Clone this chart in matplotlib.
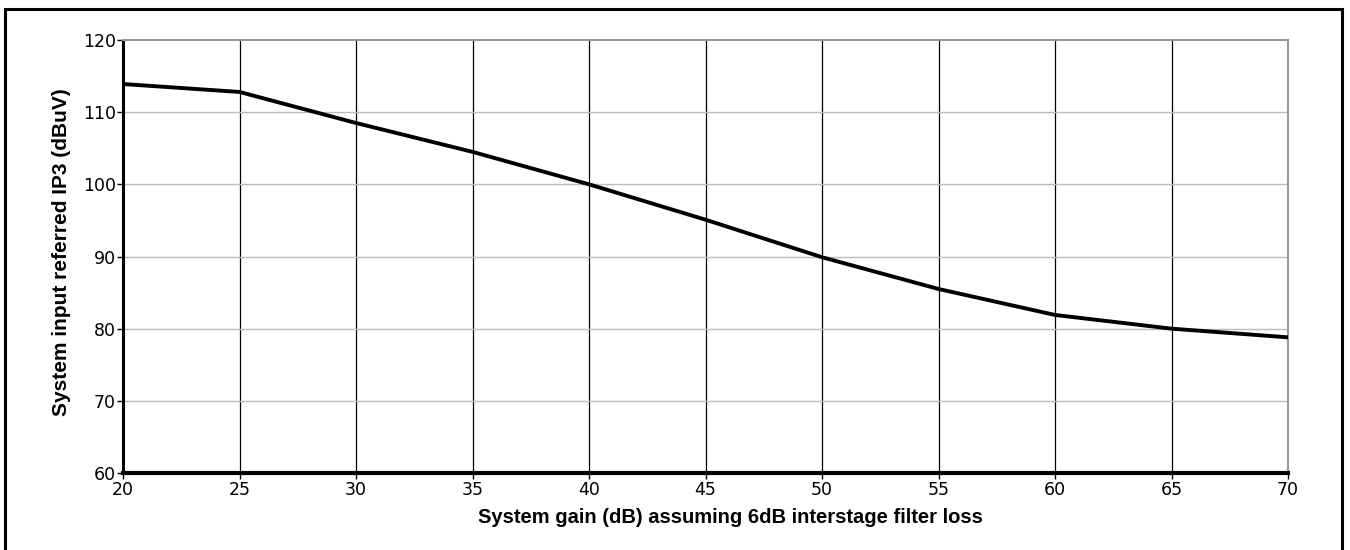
import matplotlib
matplotlib.use("Agg")
import matplotlib.pyplot as plt
from matplotlib.patches import Rectangle

gain_db = [20, 25, 30, 35, 40, 45, 50, 55, 60, 65, 70]
ip3_dbuv = [113.9, 112.8, 108.5, 104.5, 100.0, 95.1, 89.9, 85.5, 81.9, 80.0, 78.8]
x_ticks = [20, 25, 30, 35, 40, 45, 50, 55, 60, 65, 70]
y_ticks = [60, 70, 80, 90, 100, 110, 120]

plt.rcParams['font.family'] = ['Liberation Sans', 'DejaVu Sans']

W, H = 1350, 550
fig = plt.figure(figsize=(13.5, 5.5), dpi=100)
ax = fig.add_axes([123/W, 1 - 473/H, (1288 - 123)/W, (473 - 40)/H])

# outer frame
fig.patches.append(Rectangle((5/W, -0.02), (1342 - 5)/W, 1.02 - 9/H,
                             transform=fig.transFigure, fill=False,
                             edgecolor='black', linewidth=2.2))

for x in x_ticks[1:-1]:
    ax.axvline(x, color='black', linewidth=0.9, zorder=1)
for y in y_ticks[1:-1]:
    ax.axhline(y, color='#bbbbbb', linewidth=1.0, zorder=1)

ax.plot(gain_db, ip3_dbuv, color='black', linewidth=2.8, zorder=3,
        solid_joinstyle='miter')

ax.set_xlim(20, 70)
ax.set_ylim(60, 120)
ax.set_xticks(x_ticks)
ax.set_yticks(y_ticks)
ax.tick_params(axis='both', length=4, width=1, color='black')
ax.tick_params(axis='x', pad=2)
ax.tick_params(axis='y', pad=1)
for lab in ax.get_xticklabels() + ax.get_yticklabels():
    lab.set_fontfamily(['DejaVu Sans'])
    lab.set_fontsize(12.5)

ax.spines['left'].set_linewidth(2.2)
ax.spines['bottom'].set_linewidth(3.0)
ax.spines['left'].set_color('black')
ax.spines['bottom'].set_color('black')
ax.spines['top'].set_color('#999999')
ax.spines['right'].set_color('#999999')
ax.spines['top'].set_linewidth(1.5)
ax.spines['right'].set_linewidth(1.5)

fig.text(730/W, (H - 523)/H,
         'System gain (dB) assuming 6dB interstage filter loss',
         fontsize=14.5, fontweight='bold', ha='center', va='baseline')
fig.text(62/W, (H - 252)/H, 'System input referred IP3 (dBuV)',
         fontsize=15, fontweight='bold', ha='center', va='center',
         rotation=90)

fig.savefig('out.png', dpi=100, facecolor='white')
